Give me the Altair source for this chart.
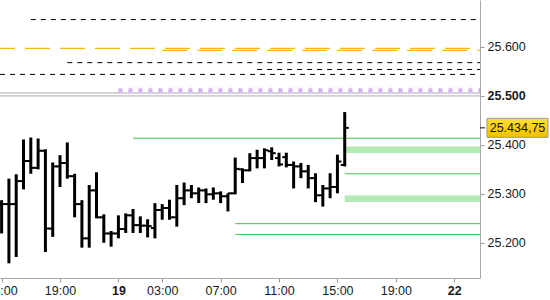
import altair as alt
import pandas as pd

# 30-minute OHLC bars; x is a compressed trading-time slot (1 slot = 30 min)
bar_slot = list(range(48))
bar_open = [25279, 25279, 25279, 25326, 25367, 25353, 25388, 25229, 25356, 25363, 25336, 25279,
            25209, 25307, 25252, 25219, 25219, 25228, 25256, 25236, 25235, 25230, 25267, 25271,
            25252, 25291, 25307, 25301, 25307, 25299, 25301, 25295, 25301, 25350, 25348, 25373,
            25373, 25387, 25373, 25375, 25359, 25356, 25346, 25332, 25297, 25311, 25314, 25359]
bar_high = [25287, 25331, 25340, 25411, 25415, 25413, 25391, 25364, 25379, 25405, 25341, 25287,
            25318, 25344, 25258, 25224, 25256, 25260, 25269, 25254, 25248, 25281, 25279, 25288,
            25318, 25323, 25318, 25313, 25311, 25313, 25305, 25301, 25374, 25352, 25383, 25390,
            25393, 25395, 25384, 25384, 25366, 25363, 25359, 25342, 25318, 25342, 25380, 25467]
bar_low = [25219, 25158, 25171, 25309, 25341, 25350, 25181, 25212, 25314, 25331, 25252, 25190,
           25190, 25250, 25200, 25192, 25209, 25220, 25220, 25220, 25211, 25209, 25247, 25247,
           25233, 25277, 25291, 25281, 25281, 25288, 25281, 25264, 25299, 25322, 25346, 25352,
           25352, 25369, 25356, 25354, 25311, 25332, 25311, 25283, 25274, 25291, 25301, 25356]
bar_close = [25279, 25279, 25326, 25367, 25353, 25388, 25229, 25356, 25363, 25336, 25279, 25209,
             25307, 25252, 25219, 25219, 25228, 25256, 25236, 25235, 25234, 25267, 25271, 25252,
             25291, 25307, 25301, 25307, 25299, 25301, 25295, 25301, 25351, 25348, 25373, 25373,
             25389, 25383, 25360, 25359, 25356, 25346, 25332, 25297, 25311, 25314, 25366, 25434.75]

x_tick_slots = [0, 8, 16, 22, 30, 38, 46, 54, 62]
x_tick_labels = ["15:00", "19:00", "19", "03:00", "07:00", "11:00", "15:00", "19:00", "22"]
x_bold_slots = [16, 62]

y_ticks = [25200, 25300, 25400, 25500, 25600, 25700]
y_bold = 25500

last_price = 25434.75

# horizontal levels: price and starting slot
black_dash_price = [25656, 25568, 25554, 25544]
black_dash_from = [4, 9, 35, -0.22]
orange_a_price = [25597]
orange_a_from = [-0.22]
orange_b_price = [25593]
orange_b_from = [22]
gray_price = [25506, 25500]
gray_from = [-0.22, -0.22]
purple_price = [25510.6]
purple_from = [16]
green_line_price = [25413.6, 25341, 25239, 25217]
green_line_from = [18, 47, 32, 32]
green_band_price = [25390, 25290]
green_band_from = [47, 47]

X_MIN, X_MAX = -0.22, 65.53
Y_MIN, Y_MAX = 25128, 25696
FONT = "Liberation Sans"

xs = alt.Scale(domain=[X_MIN, X_MAX], nice=False, zero=False)
ys = alt.Scale(domain=[Y_MIN, Y_MAX], nice=False, zero=False)

lbl_arr = "[" + ",".join("'%s'" % s for s in x_tick_labels) + "]"
pos_arr = "[" + ",".join(str(s) for s in x_tick_slots) + "]"
bold_arr = "[" + ",".join(str(s) for s in x_bold_slots) + "]"

x_axis = alt.Axis(
    values=x_tick_slots,
    labelExpr=f"{lbl_arr}[indexof({pos_arr}, datum.value)]",
    labelFontWeight=alt.condition(f"indexof({bold_arr}, datum.value) >= 0", alt.value("bold"), alt.value("normal")),
    labelFont=FONT, labelFontSize=12.5, labelColor="#1a1a1a", labelFlush=False,
    labelPadding=2, tickSize=4, tickColor="#9a9a9a", domainColor="#a8a8a8",
    grid=False, title="", labelOverlap=False,
)
y_axis = alt.Axis(
    orient="right", values=y_ticks,
    labelExpr="format(datum.value/1000, '.3f')",
    labelFontWeight=alt.condition(f"datum.value == {y_bold}", alt.value("bold"), alt.value("normal")),
    labelFont=FONT, labelFontSize=12.5, labelColor="#1a1a1a", labelFlush=False,
    labelPadding=3, tickSize=4, tickColor="#9a9a9a", domainColor="#a8a8a8",
    grid=False, title="", labelOverlap=False,
)


def X(field):
    return alt.X(field, scale=xs, axis=x_axis, title="")


def Y(field):
    return alt.Y(field, scale=ys, axis=y_axis, title="")


def levels(prices, starts):
    return pd.DataFrame({"price": prices, "start": starts, "end": [X_MAX] * len(prices)})


def level_layer(prices, starts, **mark):
    return alt.Chart(levels(prices, starts)).mark_rule(**mark).encode(
        x=X("start:Q"), x2="end:Q", y=Y("price:Q"),
    )


gray = level_layer(gray_price, gray_from, color="#a8a8a8", strokeWidth=1)
purple_band = level_layer(purple_price, purple_from, color="#dcc2f2", strokeWidth=6, strokeDash=[4, 6])
purple_core = level_layer(purple_price, purple_from, color="#c69ce8", strokeWidth=1, strokeDash=[4, 6])
black_dash = level_layer(black_dash_price, black_dash_from, color="#000000", strokeWidth=1, strokeDash=[5, 5])
orange_a = level_layer(orange_a_price, orange_a_from, color="#f7b51c", strokeWidth=1.2, strokeDash=[25, 10], strokeDashOffset=10)
orange_b = level_layer(orange_b_price, orange_b_from, color="#f7b51c", strokeWidth=1.2, strokeDash=[25, 10])
green_band = level_layer(green_band_price, green_band_from, color="#b4ebb4", strokeWidth=6.5)
green_line = level_layer(green_line_price, green_line_from, color="#44c844", strokeWidth=1)

bars = pd.DataFrame({"slot": bar_slot, "open": bar_open, "high": bar_high, "low": bar_low, "close": bar_close})
base = alt.Chart(bars)
wick = base.mark_rule(color="black", strokeWidth=3).encode(
    x=X("slot:Q"), y=Y("low:Q"), y2="high:Q",
)
open_tick = base.transform_calculate(xa="datum.slot - 0.55").mark_rule(color="black", strokeWidth=2).encode(
    x=X("xa:Q"), x2="slot:Q", y=Y("open:Q")
)
close_tick = base.transform_calculate(xb="datum.slot + 0.55").mark_rule(color="black", strokeWidth=2).encode(
    x=X("slot:Q"), x2="xb:Q", y=Y("close:Q")
)

label_text = f"{last_price:,.2f}".replace(",", "X").replace(".", ",").replace("X", ".")
price_df = pd.DataFrame({"price": [last_price], "label": [label_text]})
gradient = alt.Gradient(
    gradient="linear",
    stops=[alt.GradientStop(color="#ffe033", offset=0), alt.GradientStop(color="#f2bf00", offset=1)],
    x1=0, x2=0, y1=0, y2=1,
)
price_box = alt.Chart(price_df).mark_rect(height=19, fill=gradient, stroke="#9a9a9a", strokeWidth=1).encode(
    x=alt.value(487), x2=alt.value(548), y=Y("price:Q")
)
price_tick = alt.Chart(price_df).mark_rule(color="#111111", strokeWidth=1).encode(
    x=alt.value(480), x2=alt.value(485), y=Y("price:Q")
)
price_text = alt.Chart(price_df).mark_text(font=FONT, fontSize=12.5, color="#111111", align="center", baseline="middle").encode(
    x=alt.value(517.5), y=Y("price:Q"), text="label:N"
)

chart = alt.layer(
    gray, purple_band, purple_core, black_dash, orange_a, orange_b, green_band, green_line,
    open_tick, close_tick, wick, price_tick, price_box, price_text,
).properties(
    width=480, height=278,
    autosize=alt.AutoSizeParams(type="none"),
    padding={"left": 0, "top": 0, "right": 70, "bottom": 22},
    background="white",
).configure_view(strokeWidth=0)

chart.save("out.html", embed_options={"renderer": "svg", "actions": False})
